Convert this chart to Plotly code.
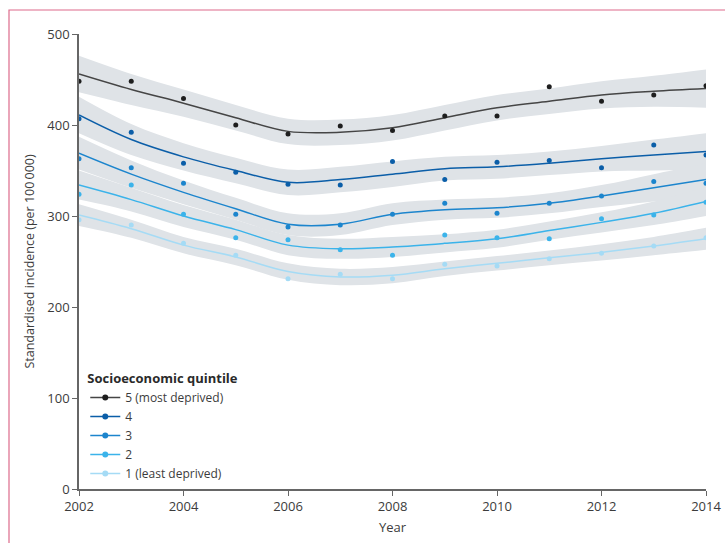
import plotly.graph_objects as go

years = list(range(2002, 2015))

names = ["5 (most deprived)", "4", "3", "2", "1 (least deprived)"]
colors = ["#1e1e1e", "#0b5ea8", "#1c85cd", "#3bb3ea", "#a5dbf5"]
line_colors = ["#454545", "#0b5ea8", "#1c85cd", "#3bb3ea", "#a5dbf5"]

# observed points
q5_pts = [448, 448, 429, 400, 390, 399, 394, 410, 410, 442, 426, 433, 443]
q4_pts = [407, 392, 358, 348, 335, 334, 360, 340, 359, 361, 353, 378, 367]
q3_pts = [363, 353, 336, 302, 288, 290, 302, 314, 303, 314, 322, 338, 336]
q2_pts = [324, 334, 302, 276, 274, 263, 257, 279, 276, 275, 297, 301, 315]
q1_pts = [296, 290, 270, 257, 231, 236, 231, 247, 245, 253, 259, 267, 276]

# fitted curves
q5_fit = [456, 439, 424, 408, 393, 392, 397, 408, 419, 426, 433, 437, 440]
q4_fit = [411, 384, 365, 350, 337, 340, 346, 352, 354, 358, 363, 367, 371]
q3_fit = [369, 346, 326, 308, 291, 291, 302, 307, 309, 314, 322, 331, 340]
q2_fit = [334, 318, 300, 285, 268, 264, 266, 270, 275, 284, 293, 303, 316]
q1_fit = [301, 286, 268, 255, 239, 233, 235, 242, 248, 254, 260, 267, 275]

# confidence band half widths
q5_ci = [20, 17, 15, 14, 14, 14, 14, 14, 14, 14, 15, 17, 21]
q4_ci = [20, 17, 15, 14, 14, 14, 14, 13, 13, 13, 14, 17, 20]
q3_ci = [18, 15, 13, 12, 12, 12, 12, 11, 11, 11, 12, 15, 18]
q2_ci = [16, 13, 12, 11, 11, 11, 11, 10, 10, 10, 11, 13, 16]
q1_ci = [12, 10, 9, 9, 9, 9, 9, 8, 8, 8, 9, 10, 12]

pts = [q5_pts, q4_pts, q3_pts, q2_pts, q1_pts]
fits = [q5_fit, q4_fit, q3_fit, q2_fit, q1_fit]
cis = [q5_ci, q4_ci, q3_ci, q2_ci, q1_ci]

band_color = "#dfe3e7"
font = "Open Sans"

fig = go.Figure()

# bands
for fit, ci in zip(fits, cis):
    upper = [f + c for f, c in zip(fit, ci)]
    lower = [f - c for f, c in zip(fit, ci)]
    fig.add_trace(go.Scatter(x=years, y=upper, mode="lines", line=dict(width=0, shape="spline"),
                             showlegend=False, hoverinfo="skip"))
    fig.add_trace(go.Scatter(x=years, y=lower, mode="lines", line=dict(width=0, shape="spline"),
                             fill="tonexty", fillcolor=band_color, showlegend=False, hoverinfo="skip"))

# fitted lines and points
for name, fit, p, c, lc in zip(names, fits, pts, colors, line_colors):
    fig.add_trace(go.Scatter(x=years, y=fit, mode="lines", line=dict(color=lc, width=1.5, shape="spline"),
                             showlegend=False, legendgroup=name, hoverinfo="skip"))
    fig.add_trace(go.Scatter(x=years, y=p, mode="markers", marker=dict(color=c, size=5),
                             showlegend=False, legendgroup=name))
    # legend entry
    fig.add_trace(go.Scatter(x=[None], y=[None], mode="lines+markers", name=name,
                             line=dict(color=lc, width=1.5), marker=dict(color=c, size=6),
                             legendgroup=name))

fig.update_layout(
    width=725, height=543,
    margin=dict(l=79, r=19, t=34, b=54, autoexpand=False),
    plot_bgcolor="white", paper_bgcolor="white",
    font=dict(family=font, size=13, color="#3c3c3c"),
    showlegend=True,
    legend=dict(
        x=0.01, y=0.27, xanchor="left", yanchor="top",
        title=dict(text="<b>Socioeconomic quintile</b>", font=dict(size=13, color="#2a2a2a")),
        font=dict(size=12, color="#3c3c3c"),
        bgcolor="rgba(0,0,0,0)", tracegroupgap=0, itemwidth=30,
    ),
    xaxis=dict(
        range=[2002, 2014], tickmode="array", tickvals=list(range(2002, 2015, 2)),
        showgrid=False, zeroline=False, showline=True, linecolor="#666", linewidth=1.5,
        ticks="outside", ticklen=5, tickcolor="#666", tickwidth=1.2,
        title=dict(text="Year", standoff=9, font=dict(size=13)),
        tickfont=dict(size=13), automargin=False, ticklabeloverflow="allow",
    ),
    yaxis=dict(
        range=[0, 500], tickmode="array", tickvals=[0, 100, 200, 300, 400, 500],
        showgrid=False, zeroline=False, showline=True, linecolor="#666", linewidth=1.5,
        ticks="outside", ticklen=5, tickcolor="#666", tickwidth=1.2,
        title=dict(text="Standardised incidence (per 100\u2009000)", standoff=10, font=dict(size=12.5)),
        tickfont=dict(size=13), automargin=False,
    ),
    shapes=[dict(type="rect", xref="paper", yref="paper",
                 x0=(9 - 79) / 627, x1=(760 - 79) / 627,
                 y0=(489 - 580) / 455, y1=1 + (34 - 10) / 455,
                 line=dict(color="#dd6b8b", width=1.2), fillcolor="rgba(0,0,0,0)", layer="below")],
)

fig.write_html(
    "out.html",
    config={"displayModeBar": False},
    post_script="document.body.style.margin='0';document.body.style.overflow='hidden';",
)
